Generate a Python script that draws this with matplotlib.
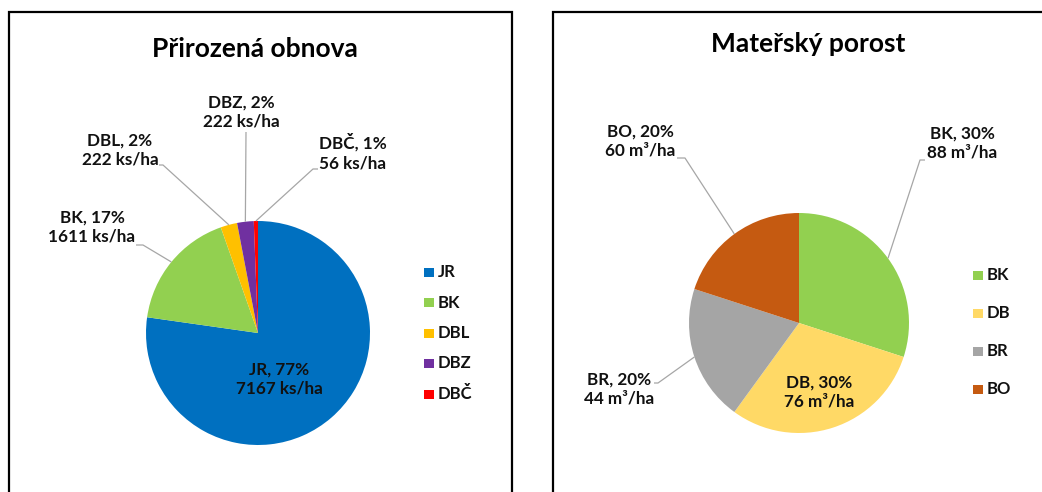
import matplotlib
matplotlib.use("Agg")
import numpy as np
import matplotlib.pyplot as plt
import matplotlib.patches as mpatches

plt.rcParams["font.family"] = ["Lato", "DejaVu Sans"]
plt.rcParams["font.weight"] = "bold"

# ── Data ─────────────────────────────────────────────────────────────────────
regen_species = ["JR", "BK", "DBL", "DBZ", "DBČ"]
regen_density = [7167, 1611, 222, 222, 56]          # ks/ha
regen_share = [77, 17, 2, 2, 1]                      # %
regen_colors = ["#0070C0", "#92D050", "#FFC000", "#7030A0", "#FF0000"]

stand_species = ["BK", "DB", "BR", "BO"]
stand_share = [30, 30, 20, 20]                       # %
stand_volume = [88, 76, 44, 60]                      # m3/ha
stand_colors = ["#92D050", "#FFD966", "#A5A5A5", "#C55A11"]

W, H = 1042, 492
fig = plt.figure(figsize=(W / 100, H / 100), dpi=100)
fig.patch.set_facecolor("white")

text_col = "#111111"
line_col = "#A6A6A6"


def fx(px):
    return px / W


def fy(py):
    return 1 - py / H


# panel frames
fig.patches.append(mpatches.Rectangle((fx(9), fy(560)), fx(512 - 9), (560 - 12) / H,
                                      transform=fig.transFigure, fill=False,
                                      edgecolor="black", linewidth=1.6))
fig.patches.append(mpatches.Rectangle((fx(553), fy(560)), fx(600), (560 - 12) / H,
                                      transform=fig.transFigure, fill=False,
                                      edgecolor="black", linewidth=1.6))


def pie_panel(cx, cy, R, values, colors, labels, label_pos, leaders, inside):
    ax = fig.add_axes([fx(cx - R), fy(cy + R), 2 * R / W, 2 * R / H])
    wedges, _ = ax.pie(values, colors=colors, startangle=90, counterclock=False,
                       radius=1, wedgeprops=dict(linewidth=0))
    ax.set_xlim(-1, 1)
    ax.set_ylim(-1, 1)
    ax.axis("off")

    def to_data(px, py):
        return (px - cx) / R, (cy - py) / R

    for i, w in enumerate(wedges):
        tx, ty = to_data(*label_pos[i])
        ax.text(tx, ty, labels[i], ha="center", va="center", fontsize=12.3,
                fontweight="bold", color=text_col, linespacing=1.3, clip_on=False)
        if i == inside:
            continue
        mid = np.deg2rad((w.theta1 + w.theta2) / 2)
        pts = [to_data(*p) for p in leaders[i]] + [(np.cos(mid), np.sin(mid))]
        xs, ys = zip(*pts)
        ax.plot(xs, ys, color=line_col, linewidth=0.9, clip_on=False,
                solid_capstyle="butt")
    return wedges


def legend_panel(wedges, names, x0, y0, step):
    for i, (w, name) in enumerate(zip(wedges, names)):
        yc = y0 + i * step
        fig.patches.append(mpatches.Rectangle((fx(x0), fy(yc + 4.5)), 9.5 / W, 9 / H,
                                              transform=fig.transFigure,
                                              facecolor=w.get_facecolor(), edgecolor="none"))
        fig.text(fx(x0 + 14), fy(yc), name, ha="left", va="center", fontsize=12,
                 fontweight="bold", color=text_col)


# ── Left: Přirozená obnova ───────────────────────────────────────────────────
regen_labels = [f"{s}, {p}%\n{d} ks/ha" for s, p, d in zip(regen_species, regen_share, regen_density)]
regen_pos = [(279, 379), (92, 227), (120, 150), (241, 112), (353, 152)]
regen_leaders = [None, [(136, 245), (143, 245)], [(159, 165), (163, 165)],
                 [(246, 132)], [(318, 169), (313, 169)]]
w1 = pie_panel(258, 333, 112, regen_density, regen_colors, regen_labels,
               regen_pos, regen_leaders, inside=0)
fig.text(fx(255), fy(49), "Přirozená obnova", ha="center", va="center",
         fontsize=19, fontweight="bold", color="black")
legend_panel(w1, regen_species, 424, 272, 30.5)

# ── Right: Mateřský porost ───────────────────────────────────────────────────
stand_labels = [f"{s}, {p}%\n{v} m\u00b3/ha" for s, p, v in zip(stand_species, stand_share, stand_volume)]
stand_pos = [(962, 143), (819, 392), (619, 389), (640, 141)]
stand_leaders = [[(925, 160), (920, 160)], None, [(654, 383), (658, 383)],
                 [(677, 158), (685, 158)]]
w2 = pie_panel(799, 323, 110, stand_share, stand_colors, stand_labels,
               stand_pos, stand_leaders, inside=1)
fig.text(fx(808), fy(44), "Mateřský porost", ha="center", va="center",
         fontsize=19, fontweight="bold", color="black")
legend_panel(w2, stand_species, 973, 275, 38)

fig.savefig("out.png", dpi=100, facecolor="white")
